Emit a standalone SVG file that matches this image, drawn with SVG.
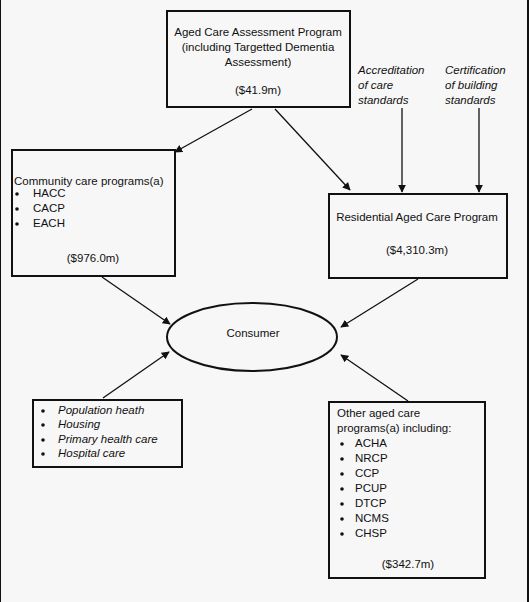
<svg xmlns="http://www.w3.org/2000/svg" width="529" height="602" viewBox="0 0 529 602">
<defs>
<style>
text{font-family:"Liberation Sans",Arial,sans-serif;font-size:11.5px;fill:#111}
.c{text-anchor:middle}
.i{font-style:italic}
.box{fill:none;stroke:#111;stroke-width:2}
.ln{stroke:#111;stroke-width:1.3;fill:none;marker-end:url(#ah)}
.b{fill:#111}
</style>
<marker id="ah" viewBox="0 0 10 10" refX="9" refY="5" markerWidth="8" markerHeight="8" markerUnits="userSpaceOnUse" orient="auto">
<path d="M0,0 L10,5 L0,10 z" fill="#111"/>
</marker>
</defs>
<rect x="0" y="0" width="529" height="602" fill="#f7f7f7"/>
<line x1="0.5" y1="0" x2="0.5" y2="602" stroke="#111" stroke-width="1"/>
<line x1="528" y1="0" x2="528" y2="602" stroke="#111" stroke-width="2"/>
<g id="connectors">
<line class="ln" x1="252" y1="109" x2="175" y2="152"/>
<line class="ln" x1="275" y1="109" x2="350" y2="190"/>
<line class="ln" x1="402" y1="108" x2="402" y2="192"/>
<line class="ln" x1="479" y1="108" x2="479" y2="192"/>
<line class="ln" x1="102" y1="277" x2="170" y2="324"/>
<line class="ln" x1="418" y1="279" x2="341" y2="327"/>
<line class="ln" x1="103" y1="398" x2="169" y2="352"/>
<line class="ln" x1="408" y1="401" x2="341" y2="355"/>
</g>
<g id="acap">
<rect class="box" x="167" y="11" width="183" height="96"/>
<text class="c" x="258" y="36">Aged Care Assessment Program</text>
<text class="c" x="258" y="51">(including Targetted Dementia</text>
<text class="c" x="258" y="66">Assessment)</text>
<text class="c" x="258" y="94">($41.9m)</text>
</g>
<g id="accreditation">
<text class="i" x="358" y="74">Accreditation</text>
<text class="i" x="358" y="89">of care</text>
<text class="i" x="358" y="104">standards</text>
</g>
<g id="certification">
<text class="i" x="445" y="74">Certification</text>
<text class="i" x="445" y="89">of building</text>
<text class="i" x="445" y="104">standards</text>
</g>
<g id="community">
<rect class="box" x="12" y="150" width="163" height="126"/>
<text x="14" y="185">Community care programs(a)</text>
<circle class="b" cx="17" cy="194" r="1.8"/><text x="33" y="197">HACC</text>
<circle class="b" cx="17" cy="209" r="1.8"/><text x="33" y="212">CACP</text>
<circle class="b" cx="17" cy="224" r="1.8"/><text x="33" y="227">EACH</text>
<text class="c" x="93" y="262">($976.0m)</text>
</g>
<g id="residential">
<rect class="box" x="329" y="194" width="178" height="84"/>
<text class="c" x="417" y="221">Residential Aged Care Program</text>
<text class="c" x="417" y="254">($4,310.3m)</text>
</g>
<g id="consumer">
<ellipse cx="252" cy="337" rx="85" ry="34" fill="none" stroke="#111" stroke-width="2"/>
<text class="c" x="253" y="337">Consumer</text>
</g>
<g id="population">
<rect class="box" x="33" y="400" width="149" height="67"/>
<circle class="b" cx="43" cy="411" r="1.8"/><text class="i" x="58" y="414">Population heath</text>
<circle class="b" cx="43" cy="425" r="1.8"/><text class="i" x="58" y="428">Housing</text>
<circle class="b" cx="43" cy="440" r="1.8"/><text class="i" x="58" y="443">Primary health care</text>
<circle class="b" cx="43" cy="454" r="1.8"/><text class="i" x="58" y="457">Hospital care</text>
</g>
<g id="other">
<rect class="box" x="329" y="402" width="156" height="176"/>
<text x="337" y="417">Other aged care</text>
<text x="337" y="432">programs(a) including:</text>
<circle class="b" cx="342" cy="444" r="1.8"/><text x="355" y="447">ACHA</text>
<circle class="b" cx="342" cy="459" r="1.8"/><text x="355" y="462">NRCP</text>
<circle class="b" cx="342" cy="474" r="1.8"/><text x="355" y="477">CCP</text>
<circle class="b" cx="342" cy="489" r="1.8"/><text x="355" y="492">PCUP</text>
<circle class="b" cx="342" cy="504" r="1.8"/><text x="355" y="507">DTCP</text>
<circle class="b" cx="342" cy="519" r="1.8"/><text x="355" y="522">NCMS</text>
<circle class="b" cx="342" cy="534" r="1.8"/><text x="355" y="537">CHSP</text>
<text class="c" x="408" y="568">($342.7m)</text>
</g>
</svg>
